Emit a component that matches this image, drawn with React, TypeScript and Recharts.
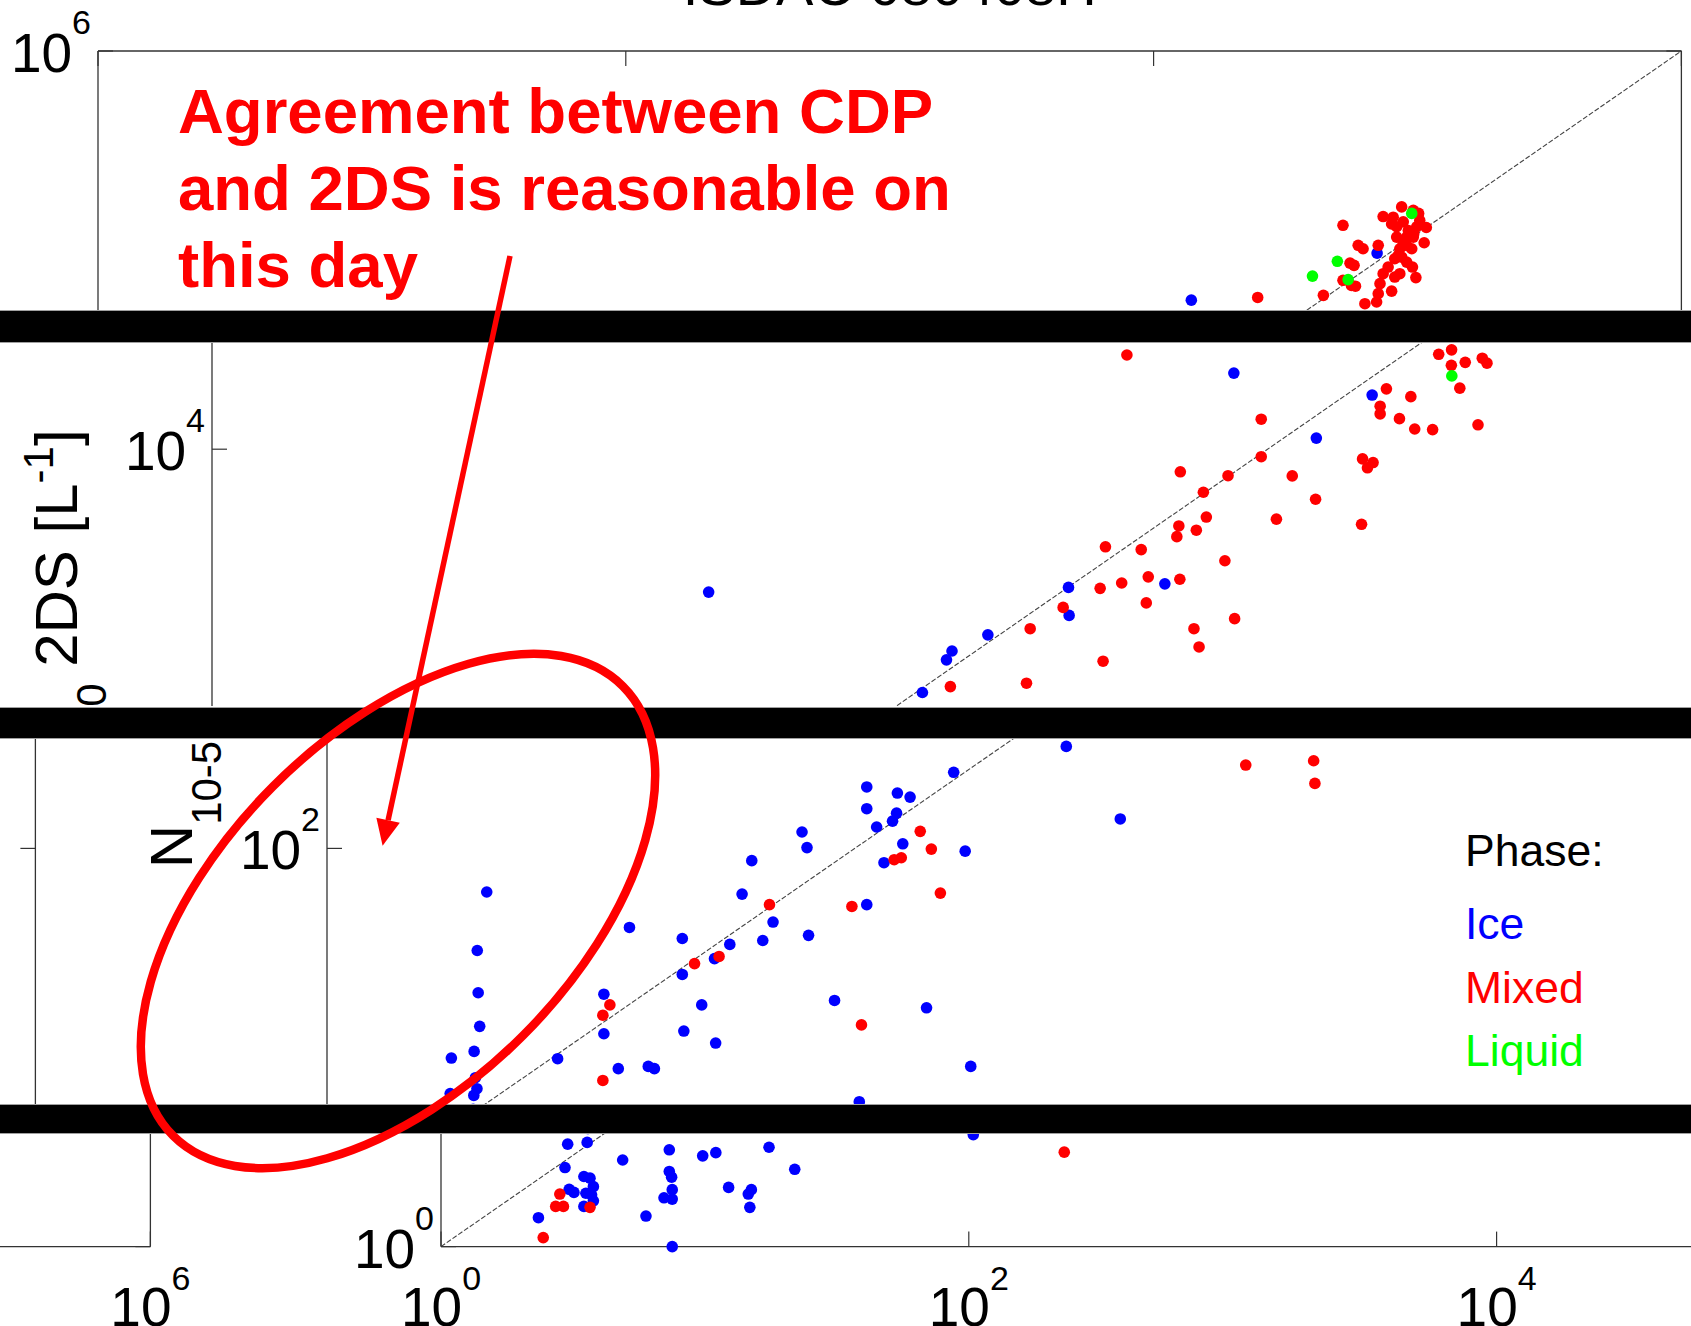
import { ScatterChart, Scatter, XAxis, YAxis, ReferenceLine, Legend } from "recharts";

// ---- data (N10-50: CDP on x, 2DS on y, both L^-1) ----
const TICKS = [1, 1e2, 1e4, 1e6];
const ONE_TO_ONE = [
  { x: 1, y: 1 },
  { x: 1e6, y: 1e6 },
];

const ICE_PTS: [number, number][] = [
  [70300, 78200], [13900, 43200],
  [7450, 26100], [15300, 11500], [24900, 19800], [4080, 1830], [76.2, 1650], [1760, 1750],
  [1770, 1230], [871, 962], [637, 785], [607, 702], [492, 465],
  [4.03, 57.7], [3.71, 27.6], [3.74, 16.2], [3.79, 10.6], [2.96, 7.11], [3.61, 7.73], [3.65, 5.55],
  [3.7, 4.83], [3.6, 4.44], [2.93, 4.54], [7.48, 7.05], [14.0, 36.9], [11.2, 15.9], [11.2, 9.66],
  [12.7, 6.22], [16.5, 6.4], [17.4, 6.22], [22.2, 32.1], [22.2, 20.4], [26.3, 13.9], [22.5, 9.99],
  [29.7, 8.59], [29.4, 24.9], [33.6, 29.8], [37.4, 56.2], [40.7, 85.7], [44.8, 31.3], [49.0, 39.5],
  [63.1, 123], [65.9, 101], [66.8, 33.4], [83.8, 14.7], [111, 49.2], [111, 217], [111, 165],
  [121, 131], [129, 83.5], [145, 201], [144, 156], [139, 141], [152, 106], [162, 191], [633, 362],
  [237, 261], [262, 96.6], [1014, 145], [187, 13.4], [275, 6.4], [104, 4.1],
  [3.02, 3.64], [3.58, 3.72], [2.95, 2.71], [4.88, 2.98], [3.48, 2.42], [3.67, 2.37], [3.78, 2.13],
  [3.06, 2.06], [3.19, 1.98], [3.54, 1.96], [3.72, 1.92], [3.78, 1.78], [3.48, 1.66], [2.34, 1.44],
  [7.33, 3.39], [7.33, 2.58], [7.48, 2.4], [7.52, 2.05], [7.0, 1.85], [7.52, 1.82], [5.98, 1.47],
  [7.52, 1.0], [9.81, 3.14], [11.0, 3.27], [12.3, 2.11], [14.6, 1.94], [15.0, 2.05], [14.8, 1.64],
  [17.5, 3.5], [21.9, 2.65],
];

const MIXED_PTS: [number, number][] = [
  [24800, 44700], [52200, 111000], [59600, 86300], [62200, 82600], [71000, 86300], [55500, 68900],
  [57500, 67000], [52200, 55500], [56200, 52000], [58200, 51500], [44000, 45900], [63200, 41300],
  [70000, 42200], [71000, 46900], [79800, 48400], [72100, 53200], [74100, 60300], [77400, 65600],
  [82000, 72800], [85700, 60300], [82000, 57800], [87100, 74300], [95700, 65600], [98600, 57400],
  [85700, 82600], [91000, 86100], [95100, 82600], [106000, 89100], [83400, 95700], [91000, 95700],
  [74100, 124000], [80900, 123000], [87100, 140000], [79800, 113000], [83400, 109000], [88300, 116000],
  [92300, 104000], [99300, 109000], [102000, 118000], [96400, 134000], [101000, 129000],
  [108000, 108000], [96400, 95700], [88300, 88100], [96800, 99800], [84500, 75900], [91000, 69800],
  [2930, 32800], [9460, 14600], [9460, 9100], [7080, 7160], [4670, 7520], [5710, 5810], [5860, 4250],
  [4610, 3800], [4530, 3320], [5370, 3600], [2430, 2920], [3320, 2820], [3530, 2000], [4650, 1940],
  [2800, 1850], [2320, 1730], [3470, 1440], [6890, 2450], [10800, 4140], [12400, 7140], [15200, 5320],
  [5260, 1040], [5500, 826], [7500, 1180], [2380, 690], [22700, 3880], [22900, 8850], [25100, 8450],
  [23900, 7910], [28200, 21400], [26700, 17200], [26700, 15600], [31600, 14700], [34900, 19400],
  [36100, 12900], [42200, 12800], [62700, 13600], [44500, 33100], [49800, 35000], [49700, 28800],
  [56100, 29900], [65100, 31500], [67800, 29600], [53500, 21600], [1680, 1360], [1260, 1040],
  [1220, 523], [628, 501],
  [11.8, 13.9], [11.1, 12.2], [11.1, 5.36], [24.7, 23.4], [30.6, 25.6], [47.5, 49.2], [97.5, 48.1],
  [106, 10.8], [141, 86.7], [150, 88.9], [177, 124], [195, 99.1], [211, 56.9], [3030, 286],
  [5480, 302], [5540, 227],
  [2.82, 1.94], [2.72, 1.66], [2.91, 1.66], [3.67, 1.64], [2.44, 1.12], [230, 3.29],
];

const LIQUID_PTS: [number, number][] = [
  [95100, 129000], [49700, 70500], [40000, 58500], [54600, 56000], [49900, 25200],
];

const SERIES = [
  { name: "Ice", color: "#0000ff", pts: ICE_PTS },
  { name: "Mixed", color: "#ff0000", pts: MIXED_PTS },
  { name: "Liquid", color: "#00ff00", pts: LIQUID_PTS },
];

// ---- layout ----
const FONT = '"Liberation Sans", Arial, Helvetica, sans-serif';
const AX = "#333";
const TL = 15;
const DOT_R = 5.8;
const PLOT_W = 1583.4;
const PLOT_H = 1095.6;
const MARGIN = { top: 90, right: 60, bottom: 100, left: 140 };
const LEFT_W = 120;
const RIGHT_W = 20;
const TOP_H = 20;
const BOTTOM_H = 60;
const PLOT_X = MARGIN.left + LEFT_W;
const PLOT_Y = MARGIN.top + TOP_H;
const CHART_W = PLOT_X + PLOT_W + RIGHT_W + MARGIN.right;
const CHART_H = PLOT_Y + PLOT_H + BOTTOM_H + MARGIN.bottom;
const WRAP = 1874.5;

// the picture is cut into strips, each a shifted copy of the same axes
const BANDS = [
  { top: 0, bottom: 309.5, x0: 98.1, base: 1146.2 },
  { top: 342.7, bottom: 706.5, x0: 212.4, base: 1179.7 },
  { top: 738.5, bottom: 1103.5, x0: 326.7, base: 1213.2 },
  { top: 1134.3, bottom: 1326, x0: 441, base: 1246.7 },
];

const exp10 = (v: number) => String(Math.round(Math.log10(v)));

function BottomTick({ x, y, payload }: any) {
  return (
    <g>
      <line x1={x} y1={y} x2={x} y2={y - TL} stroke={AX} strokeWidth={1.2} />
      <text x={x} y={y + 79} textAnchor="middle" fontSize={55} fontFamily={FONT} fill="#000">
        10<tspan dy={-36} fontSize={34}>{exp10(payload.value)}</tspan>
      </text>
    </g>
  );
}

function LeftTick({ x, y, payload }: any) {
  return (
    <g>
      <line x1={x} y1={y} x2={x + TL} y2={y} stroke={AX} strokeWidth={1.2} />
      <text x={x - 7} y={y + 21} textAnchor="end" fontSize={55} fontFamily={FONT} fill="#000">
        10<tspan dy={-38} fontSize={34}>{exp10(payload.value)}</tspan>
      </text>
    </g>
  );
}

function TopTick({ x, y }: any) {
  return <line x1={x} y1={y} x2={x} y2={y + TL} stroke={AX} strokeWidth={1.2} />;
}

function RightTick({ x, y }: any) {
  return <line x1={x} y1={y} x2={x - TL} y2={y} stroke={AX} strokeWidth={1.2} />;
}

function TitleLabel() {
  return (
    <text x={PLOT_X + PLOT_W / 2} y={PLOT_Y - 46} textAnchor="middle" fontSize={56} fontFamily={FONT} fill="#000">
      ISDAC 080408H
    </text>
  );
}

function YLabel() {
  const bx = PLOT_X - 135;
  const cy = PLOT_Y + PLOT_H / 2;
  return (
    <text transform={`rotate(-90 ${bx} ${cy})`} x={bx} y={cy} textAnchor="middle" fontSize={60} fontFamily={FONT} fill="#000">
      N<tspan dy={29} fontSize={42}>10-50</tspan>
      <tspan dy={-29}> 2DS [L</tspan>
      <tspan dy={-24} fontSize={42}>-1</tspan>
      <tspan dy={24}>]</tspan>
    </text>
  );
}

function XLabel() {
  const cx = PLOT_X + PLOT_W / 2;
  const by = PLOT_Y + PLOT_H + 145;
  return (
    <text x={cx} y={by} textAnchor="middle" fontSize={60} fontFamily={FONT} fill="#000">
      N<tspan dy={29} fontSize={42}>10-50</tspan>
      <tspan dy={-29}> CDP [L</tspan>
      <tspan dy={-24} fontSize={42}>-1</tspan>
      <tspan dy={24}>]</tspan>
    </text>
  );
}

const LEG_BASE = [58, 131, 194.6, 257.7];

function PhaseLegend({ payload }: any) {
  const items = payload || [];
  return (
    <svg width={260} height={300} style={{ display: "block", overflow: "visible" }}>
      <text x={0} y={LEG_BASE[0]} fontSize={44.5} fontFamily={FONT} fill="#000">
        Phase:
      </text>
      {items.map((p: any, i: number) => (
        <text key={p.value} x={0} y={LEG_BASE[i + 1]} fontSize={44.5} fontFamily={FONT} fill={p.color}>
          {p.value}
        </text>
      ))}
    </svg>
  );
}

const seriesOrder = (entry: any) => SERIES.findIndex((s) => s.name === entry.value);

function PhaseScatter() {
  return (
    <ScatterChart width={CHART_W} height={CHART_H} margin={MARGIN}>
      <XAxis
        type="number" dataKey="x" scale="log" domain={[1, 1e6]} ticks={TICKS} interval={0}
        height={BOTTOM_H} tickSize={0} tickMargin={0} tickLine={false}
        axisLine={{ stroke: AX, strokeWidth: 1.3 }} tick={BottomTick} label={XLabel}
      />
      <XAxis
        xAxisId="top" orientation="top" type="number" dataKey="x" scale="log" domain={[1, 1e6]}
        ticks={TICKS} interval={0} allowDataOverflow height={TOP_H} tickSize={0} tickMargin={0}
        tickLine={false} axisLine={{ stroke: AX, strokeWidth: 1.3 }} tick={TopTick} label={TitleLabel}
      />
      <YAxis
        type="number" dataKey="y" scale="log" domain={[1, 1e6]} ticks={TICKS} interval={0}
        width={LEFT_W} tickSize={0} tickMargin={0} tickLine={false}
        axisLine={{ stroke: AX, strokeWidth: 1.3 }} tick={LeftTick} label={YLabel}
      />
      <YAxis
        yAxisId="right" orientation="right" type="number" dataKey="y" scale="log" domain={[1, 1e6]}
        ticks={TICKS} interval={0} allowDataOverflow width={RIGHT_W} tickSize={0} tickMargin={0}
        tickLine={false} axisLine={{ stroke: AX, strokeWidth: 1.3 }} tick={RightTick}
      />
      <ReferenceLine segment={ONE_TO_ONE} stroke="#444" strokeWidth={1.1} strokeDasharray="5 2" />
      {SERIES.map((s) => (
        <Scatter
          key={s.name}
          name={s.name}
          data={s.pts.map(([x, y]) => ({ x, y }))}
          fill={s.color}
          isAnimationActive={false}
          shape={(p: any) => <circle cx={p.cx} cy={p.cy} r={DOT_R} fill={s.color} />}
        />
      ))}
      <Legend
        layout="vertical" align="center" verticalAlign="middle" content={PhaseLegend}
        itemSorter={seriesOrder}
        wrapperStyle={{ left: 1398, top: 800, width: 260, height: 300 }}
      />
    </ScatterChart>
  );
}

function Strip({ band }: { band: (typeof BANDS)[number] }) {
  const top = band.base - PLOT_H - PLOT_Y - band.top;
  const left = band.x0 - PLOT_X;
  return (
    <div
      style={{
        position: "absolute", left: 0, top: band.top, width: 1691,
        height: band.bottom - band.top, overflow: "hidden",
      }}
    >
      <div style={{ position: "absolute", left, top }}>
        <PhaseScatter />
      </div>
      <div style={{ position: "absolute", left: left - WRAP, top }}>
        <PhaseScatter />
      </div>
    </div>
  );
}

export default function App() {
  const bars = BANDS.slice(0, -1).map((b, i) => ({ top: b.bottom, bottom: BANDS[i + 1].top }));
  // arrow from the note down into the ellipse
  const sx = 510, sy = 256, tx = 382.6, ty = 845.7;
  const len = Math.hypot(tx - sx, ty - sy);
  const ux = (tx - sx) / len, uy = (ty - sy) / len;
  const bx = tx - 26 * ux, by = ty - 26 * uy;
  const head = `${tx},${ty} ${bx - 12 * uy},${by + 12 * ux} ${bx + 12 * uy},${by - 12 * ux}`;

  return (
    <div
      style={{
        position: "absolute", left: 0, top: 0, width: 1691, height: 1326,
        overflow: "hidden", background: "#fff", fontFamily: FONT,
      }}
    >
      {BANDS.map((b, i) => (
        <Strip key={i} band={b} />
      ))}
      {bars.map((b, i) => (
        <div
          key={i}
          style={{
            position: "absolute", left: 0, width: 1691, top: b.top, height: b.bottom - b.top,
            background: "#000", boxSizing: "border-box",
            borderTop: "1.5px solid #a0a0a0", borderBottom: "1.5px solid #a0a0a0",
          }}
        />
      ))}
      <svg width={1691} height={1326} style={{ position: "absolute", left: 0, top: 0 }}>
        <g fill="#ff0000" fontWeight="bold" fontSize={63.5} fontFamily={FONT}>
          <text x={178} y={133}>Agreement between CDP</text>
          <text x={178} y={210}>and 2DS is reasonable on</text>
          <text x={178} y={287}>this day</text>
        </g>
        <line x1={sx} y1={sy} x2={bx} y2={by} stroke="#ff0000" strokeWidth={5.5} />
        <polygon points={head} fill="#ff0000" />
        <ellipse
          cx={398} cy={911} rx={318} ry={176.5} transform="rotate(-45 398 911)"
          fill="none" stroke="#ff0000" strokeWidth={8.5}
        />
      </svg>
    </div>
  );
}
